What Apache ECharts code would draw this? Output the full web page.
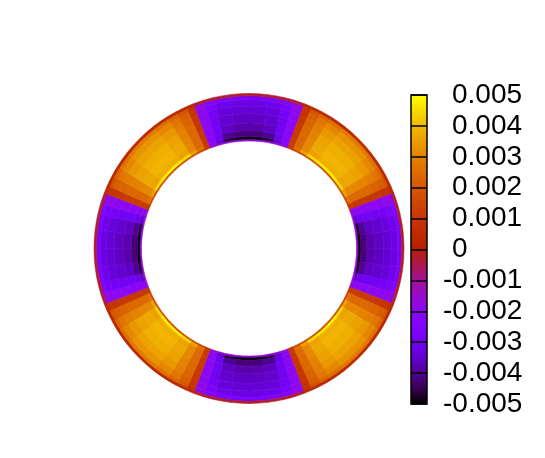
<!DOCTYPE html>
<html>
<head>
<meta charset="utf-8">
<script src="https://cdn.jsdelivr.net/npm/echarts@6/dist/echarts.min.js"></script>
<style>
html,body{margin:0;padding:0;background:#fff;}
#chart{width:545px;height:458px;}
</style>
</head>
<body>
<div id="chart"></div>
<script>
// Radial cell edges (fraction of outer radius)
const ringEdges = [0.694, 0.706, 0.722, 0.76, 0.81, 0.87, 0.92, 0.96, 0.985, 1.0];
// Angular cell edges (degrees, clockwise from top)
const angleEdges = [
  -24,-21,-17,-13,-7,0,7,13,17,
  21,24,28,32,38,45,52,58,62,
  66,69,73,77,83,90,97,103,107,
  111,114,118,122,128,135,142,148,152,
  156,159,163,167,173,180,187,193,197,
  201,204,208,212,218,225,232,238,242,
  246,249,253,257,263,270,277,283,287,
  291,294,298,302,308,315,322,328,332,
  336
];
// Field values per ring, in units of 1e-3 (inner ring first)
const ring0 = [
  0.8,-1.4,-1.6,-1.7,-1.7,-1.7,-1.7,-1.6,-1.4,  0.8,1.4,1.6,1.8,1.8,1.8,1.8,1.6,1.4,
  0.8,-1.4,-1.6,-1.7,-1.7,-1.7,-1.7,-1.6,-1.4,  0.8,1.4,1.6,1.8,1.8,1.8,1.8,1.6,1.4,
  0.8,-1.4,-1.6,-1.7,-1.7,-1.7,-1.7,-1.6,-1.4,  0.8,1.4,1.6,1.8,1.8,1.8,1.8,1.6,1.4,
  0.8,-1.4,-1.6,-1.7,-1.7,-1.7,-1.7,-1.6,-1.4,  0.8,1.4,1.6,1.8,1.8,1.8,1.8,1.6,1.4
];
const ring1 = [
  1.0,-2.4,-3.6,-4.7,-4.9,-4.9,-4.7,-3.6,-2.4,  1.0,2.6,3.6,4.5,4.8,4.8,4.5,3.6,2.6,
  1.0,-2.4,-3.6,-4.7,-4.9,-4.9,-4.7,-3.6,-2.4,  1.0,2.6,3.6,4.5,4.8,4.8,4.5,3.6,2.6,
  1.0,-2.4,-3.6,-4.7,-4.9,-4.9,-4.7,-3.6,-2.4,  1.0,2.6,3.6,4.5,4.8,4.8,4.5,3.6,2.6,
  1.0,-2.4,-3.6,-4.7,-4.9,-4.9,-4.7,-3.6,-2.4,  1.0,2.6,3.6,4.5,4.8,4.8,4.5,3.6,2.6
];
const ring2 = [
  1.0,-2.1,-3.1,-4.0,-4.2,-4.2,-4.0,-3.1,-2.1,  1.1,2.4,3.1,3.6,3.8,3.8,3.6,3.1,2.4,
  1.0,-2.1,-3.1,-4.0,-4.2,-4.2,-4.0,-3.1,-2.1,  1.1,2.4,3.1,3.6,3.8,3.8,3.6,3.1,2.4,
  1.0,-2.1,-3.1,-4.0,-4.2,-4.2,-4.0,-3.1,-2.1,  1.1,2.4,3.1,3.6,3.8,3.8,3.6,3.1,2.4,
  1.0,-2.1,-3.1,-4.0,-4.2,-4.2,-4.0,-3.1,-2.1,  1.1,2.4,3.1,3.6,3.8,3.8,3.6,3.1,2.4
];
const ring3 = [
  1.0,-2.1,-3.0,-3.6,-3.8,-3.8,-3.6,-3.0,-2.1,  1.1,2.4,3.1,3.7,3.9,3.9,3.7,3.1,2.4,
  1.0,-2.1,-3.0,-3.6,-3.8,-3.8,-3.6,-3.0,-2.1,  1.1,2.4,3.1,3.7,3.9,3.9,3.7,3.1,2.4,
  1.0,-2.1,-3.0,-3.6,-3.8,-3.8,-3.6,-3.0,-2.1,  1.1,2.4,3.1,3.7,3.9,3.9,3.7,3.1,2.4,
  1.0,-2.1,-3.0,-3.6,-3.8,-3.8,-3.6,-3.0,-2.1,  1.1,2.4,3.1,3.7,3.9,3.9,3.7,3.1,2.4
];
const ring4 = [
  1.0,-2.0,-3.0,-3.5,-3.6,-3.6,-3.5,-3.0,-2.0,  1.1,2.4,3.0,3.6,3.8,3.8,3.6,3.0,2.4,
  1.0,-2.0,-3.0,-3.5,-3.6,-3.6,-3.5,-3.0,-2.0,  1.1,2.4,3.0,3.6,3.8,3.8,3.6,3.0,2.4,
  1.0,-2.0,-3.0,-3.5,-3.6,-3.6,-3.5,-3.0,-2.0,  1.1,2.4,3.0,3.6,3.8,3.8,3.6,3.0,2.4,
  1.0,-2.0,-3.0,-3.5,-3.6,-3.6,-3.5,-3.0,-2.0,  1.1,2.4,3.0,3.6,3.8,3.8,3.6,3.0,2.4
];
const ring5 = [
  1.0,-2.0,-2.9,-3.3,-3.4,-3.4,-3.3,-2.9,-2.0,  1.0,2.3,2.9,3.4,3.6,3.6,3.4,2.9,2.3,
  1.0,-2.0,-2.9,-3.3,-3.4,-3.4,-3.3,-2.9,-2.0,  1.0,2.3,2.9,3.4,3.6,3.6,3.4,2.9,2.3,
  1.0,-2.0,-2.9,-3.3,-3.4,-3.4,-3.3,-2.9,-2.0,  1.0,2.3,2.9,3.4,3.6,3.6,3.4,2.9,2.3,
  1.0,-2.0,-2.9,-3.3,-3.4,-3.4,-3.3,-2.9,-2.0,  1.0,2.3,2.9,3.4,3.6,3.6,3.4,2.9,2.3
];
const ring6 = [
  0.9,-1.9,-2.7,-3.1,-3.2,-3.2,-3.1,-2.7,-1.9,  0.9,2.2,2.7,3.1,3.3,3.3,3.1,2.7,2.2,
  0.9,-1.9,-2.7,-3.1,-3.2,-3.2,-3.1,-2.7,-1.9,  0.9,2.2,2.7,3.1,3.3,3.3,3.1,2.7,2.2,
  0.9,-1.9,-2.7,-3.1,-3.2,-3.2,-3.1,-2.7,-1.9,  0.9,2.2,2.7,3.1,3.3,3.3,3.1,2.7,2.2,
  0.9,-1.9,-2.7,-3.1,-3.2,-3.2,-3.1,-2.7,-1.9,  0.9,2.2,2.7,3.1,3.3,3.3,3.1,2.7,2.2
];
const ring7 = [
  0.8,-1.8,-2.3,-2.6,-2.7,-2.7,-2.6,-2.3,-1.8,  0.8,1.9,2.3,2.6,2.8,2.8,2.6,2.3,1.9,
  0.8,-1.8,-2.3,-2.6,-2.7,-2.7,-2.6,-2.3,-1.8,  0.8,1.9,2.3,2.6,2.8,2.8,2.6,2.3,1.9,
  0.8,-1.8,-2.3,-2.6,-2.7,-2.7,-2.6,-2.3,-1.8,  0.8,1.9,2.3,2.6,2.8,2.8,2.6,2.3,1.9,
  0.8,-1.8,-2.3,-2.6,-2.7,-2.7,-2.6,-2.3,-1.8,  0.8,1.9,2.3,2.6,2.8,2.8,2.6,2.3,1.9
];
const ring8 = [
  0.3,-0.3,-0.3,-0.3,-0.3,-0.3,-0.3,-0.3,-0.3,  0.3,0.3,0.3,0.3,0.3,0.3,0.3,0.3,0.3,
  0.3,-0.3,-0.3,-0.3,-0.3,-0.3,-0.3,-0.3,-0.3,  0.3,0.3,0.3,0.3,0.3,0.3,0.3,0.3,0.3,
  0.3,-0.3,-0.3,-0.3,-0.3,-0.3,-0.3,-0.3,-0.3,  0.3,0.3,0.3,0.3,0.3,0.3,0.3,0.3,0.3,
  0.3,-0.3,-0.3,-0.3,-0.3,-0.3,-0.3,-0.3,-0.3,  0.3,0.3,0.3,0.3,0.3,0.3,0.3,0.3,0.3
];
const rings = [ring0, ring1, ring2, ring3, ring4, ring5, ring6, ring7, ring8];
const valueUnit = 1e-3;
// Colour bar tick labels (bottom to top)
const cbTickLabels = ['-0.005','-0.004','-0.003','-0.002','-0.001','0','0.001','0.002','0.003','0.004','0.005'];
const cbMin = -0.005, cbMax = 0.005;
// Palette (black-blue-purple-red-orange-yellow)
const palette = ['#000000','#39004f','#510096','#6301ce','#7202f2','#8004ff','#8c07f2','#970bce','#a11096','#ab174f',
  '#b42000','#bd2a00','#c63700','#ce4600','#d55700','#dd6c00','#e48300','#eb9d00','#f2ba00','#f9db00','#ffff00'];

const cells = [];
rings.forEach((ring, ri) => {
  ring.forEach((v, ai) => {
    cells.push([ringEdges[ri], ringEdges[ri + 1], angleEdges[ai], angleEdges[ai + 1], v * valueUnit]);
  });
});

const chart = echarts.init(document.getElementById('chart'), null, {renderer: 'canvas'});
const labelFont = {fontFamily: 'Liberation Sans', fontSize: 28, color: '#000'};
chart.setOption({
  backgroundColor: '#fff',
  animation: false,
  polar: {center: [249, 248.5], radius: [0, 155]},
  angleAxis: {type: 'value', min: 0, max: 360, startAngle: 90, clockwise: true, show: false},
  radiusAxis: {type: 'value', min: 0, max: 1, show: false},
  grid: {left: 411, top: 95, width: 16, height: 309, show: true, borderColor: '#000', borderWidth: 1.5,
         backgroundColor: 'transparent', z: 5},
  xAxis: {type: 'value', show: false, gridIndex: 0},
  yAxis: {
    type: 'category', data: cbTickLabels, boundaryGap: false, position: 'right', gridIndex: 0, z: 6,
    axisLine: {show: false}, axisTick: {show: false},
    splitLine: {show: true, lineStyle: {color: '#000', width: 1.5}},
    axisLabel: Object.assign({
      margin: 16, align: 'left', interval: 0,
      formatter: s => s.charAt(0) === '-' ? s : '{p|' + s + '}',
      rich: {p: Object.assign({padding: [0, 0, 0, 9]}, labelFont)}
    }, labelFont)
  },
  visualMap: {
    type: 'continuous', min: cbMin, max: cbMax, dimension: 4, seriesIndex: 0,
    calculable: false, hoverLink: false, left: 411, top: 95, itemWidth: 16, itemHeight: 309,
    padding: 0, z: 1, inRange: {color: palette}
  },
  series: [{
    type: 'custom', coordinateSystem: 'polar', data: cells, silent: true,
    renderItem: function (params, api) {
      const cs = params.coordSys;
      const cx = cs.cx, cy = cs.cy;
      const r0 = api.value(0), r1 = api.value(1), a0 = api.value(2), a1 = api.value(3);
      const pIn = api.coord([r0, a0]);
      const pOut0 = api.coord([r1, a0]);
      const pOut1 = api.coord([r1, a1]);
      const rin = Math.hypot(pIn[0] - cx, pIn[1] - cy);
      const rout = Math.hypot(pOut0[0] - cx, pOut0[1] - cy);
      const s = Math.atan2(pOut0[1] - cy, pOut0[0] - cx);
      let e = Math.atan2(pOut1[1] - cy, pOut1[0] - cx);
      if (e < s) e += 2 * Math.PI;
      const c = api.visual('color');
      return {
        type: 'sector',
        shape: {cx: cx, cy: cy, r0: rin, r: rout, startAngle: s, endAngle: e, clockwise: true},
        style: {fill: c, stroke: c, lineWidth: 0.6}
      };
    }
  }]
});
</script>
</body>
</html>
